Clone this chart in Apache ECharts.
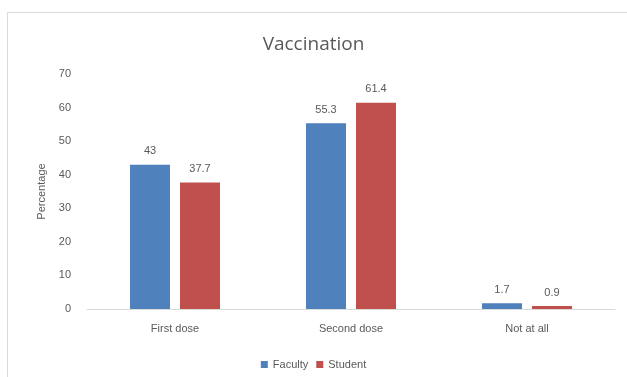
<!DOCTYPE html>
<html>
<head>
<meta charset="utf-8">
<script src="https://cdn.jsdelivr.net/npm/echarts@6/dist/echarts.min.js"></script>
<style>
  html, body { margin: 0; padding: 0; background: #fff; }
  #frame { position: absolute; left: 7px; top: 12px; width: 640px; height: 380px; border: 1px solid #d9d9d9; box-sizing: border-box; }
  #chart { width: 627px; height: 377px; position: absolute; left: 0; top: 0; }
</style>
</head>
<body>
<div id="frame"></div>
<div id="chart"></div>
<script>
var categories = ['First dose', 'Second dose', 'Not at all'];
var faculty = [43, 55.3, 1.7];
var student = [37.7, 61.4, 0.9];
var yTicks = [0, 10, 20, 30, 40, 50, 60, 70];

var textColor = '#595959';
var chart = echarts.init(document.getElementById('chart'));

var labelStyle = {
    show: true,
    position: 'top',
    distance: 8,
    color: textColor,
    fontSize: 11,
    fontFamily: 'Liberation Sans'
};

chart.setOption({
    animation: false,
    title: {
        text: 'Vaccination',
        left: 'center',
        top: 30,
        textStyle: { color: textColor, fontSize: 19, fontWeight: 'normal', fontFamily: 'Open Sans' }
    },
    legend: {
        bottom: 2,
        left: 'center',
        itemWidth: 7,
        itemHeight: 7,
        itemGap: 8,
        icon: 'rect',
        textStyle: { color: textColor, fontSize: 11, fontFamily: 'Liberation Sans' },
        data: ['Faculty', 'Student']
    },
    grid: { left: 87, right: 12, top: 74, bottom: 68, containLabel: false },
    xAxis: {
        type: 'category',
        data: categories,
        axisLine: { lineStyle: { color: '#d9d9d9' } },
        axisTick: { show: false },
        axisLabel: { color: textColor, fontSize: 11, margin: 14, fontFamily: 'Liberation Sans' }
    },
    yAxis: {
        type: 'value',
        min: yTicks[0],
        max: yTicks[yTicks.length - 1],
        interval: 10,
        name: 'Percentage',
        nameLocation: 'middle',
        nameGap: 40,
        nameTextStyle: { color: textColor, fontSize: 11, fontFamily: 'Liberation Sans' },
        axisLine: { show: false },
        axisTick: { show: false },
        splitLine: { show: false },
        axisLabel: { color: textColor, fontSize: 11, margin: 16, fontFamily: 'Liberation Sans' }
    },
    series: [
        {
            name: 'Faculty',
            type: 'bar',
            data: faculty,
            barWidth: 40,
            barGap: '25%',
            itemStyle: { color: '#4F81BD' },
            label: labelStyle
        },
        {
            name: 'Student',
            type: 'bar',
            data: student,
            barWidth: 40,
            itemStyle: { color: '#C0504D' },
            label: labelStyle
        }
    ]
});
</script>
</body>
</html>
